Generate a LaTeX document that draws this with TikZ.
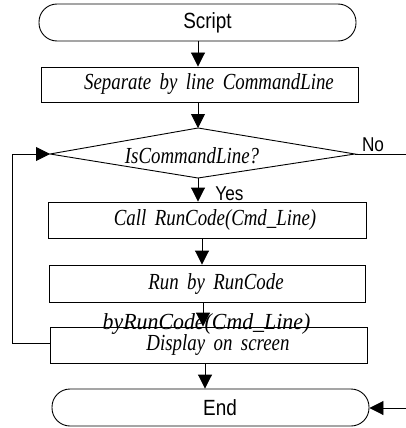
\documentclass[tikz,border=0pt]{standalone}
\usepackage{fontspec}
\newfontfamily\sansf{Liberation Sans}[FakeStretch=0.86]
\newfontfamily\itf{Liberation Serif}[FakeStretch=0.82, WordSpace=1.8]
\newfontfamily\itfw{Liberation Serif}[FakeStretch=0.95]
\usetikzlibrary{arrows.meta,calc}
\begin{document}
\begin{tikzpicture}[x=1pt,y=-1pt,
  line width=0.9pt,
  arr/.style={-{Triangle[width=14pt,length=14pt]}},
  term/.style={draw, rounded corners=18pt, inner sep=0pt, font=\sansf\fontsize{22}{22}\selectfont},
  proc/.style={draw, inner sep=0pt, font=\itf\itshape\fontsize{23}{23}\selectfont},
  lbl/.style={inner sep=0pt, font=\sansf\fontsize{20}{20}\selectfont},
  itl/.style={inner sep=0pt, font=\itf\itshape\fontsize{23}{23}\selectfont}]
\useasboundingbox (0,0) rectangle (406,428);
% terminals and boxes
\node[term, minimum width=317pt, minimum height=37pt] (script) at (197.5,22.5) {\hspace*{20pt}Script};
\node[proc, minimum width=317pt, minimum height=35pt] (sep) at (199.5,84.5) {\hspace*{19pt}Separate by line CommandLine};
\coordinate (dt) at (198,128);
\coordinate (dl) at (50,154);
\coordinate (dr) at (355,154);
\coordinate (db) at (198,178);
\draw (dt) -- (dr) -- (db) -- (dl) -- cycle;
\node[itl, anchor=base] (q) at (192,163) {IsCommandLine?};
\node[proc, minimum width=318pt, minimum height=36pt] (call) at (207,220) {\hspace*{16pt}Call RunCode(Cmd\_Line)};
\node[proc, minimum width=316pt, minimum height=37pt] (run) at (207,283.5) {\hspace*{18pt}Run by RunCode};
\node[proc, minimum width=317pt, minimum height=36pt] (disp) at (208.5,345) {\hspace*{19pt}Display on screen};
\node[term, minimum width=317pt, minimum height=37pt] (end) at (210.5,407.5) {\hspace*{19pt}End};
\node[inner sep=0pt, font=\itfw\itshape\fontsize{23}{23}\selectfont, anchor=base] (extra) at (206.5,329.5) {byRunCode(Cmd\_Line)};
% labels
\node[lbl, anchor=base] (no) at (373,151) {No};
\node[lbl, anchor=base] (yes) at (229.5,200) {Yes};
% connectors
\coordinate (c1) at (202,0);
\coordinate (c2) at (203,0);
\coordinate (c3) at (205,0);
\coordinate (noend) at (406,154);
\coordinate (lt) at (12,154);
\coordinate (lb) at (12,343);
\coordinate (ein) at (406,408);
\draw[arr] (script.south -| dt) -- (sep.north -| dt);
\draw[arr] (sep.south -| dt) -- (dt);
\draw (dr) -- (noend);
\draw[arr] (db) -- (call.north -| db);
\draw[arr] (call.south -| c1) -- (run.north -| c1);
\draw[arr] (run.south -| c2) -- (disp.north -| c2);
\draw[arr] (disp.south -| c3) -- (end.north -| c3);
\draw[arr] (disp.west |- lb) -- (lb) -- (lt) -- (dl);
\draw[arr] (ein) -- (end.east |- ein);
\end{tikzpicture}
\end{document}
